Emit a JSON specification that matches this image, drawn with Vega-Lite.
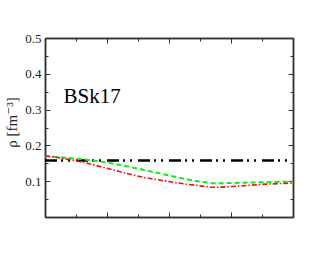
{
  "$schema": "https://vega.github.io/schema/vega-lite/v6.json",
  "width": 248,
  "height": 179,
  "autosize": {"type": "none"},
  "padding": {"left": 45, "top": 38, "right": 37, "bottom": 38},
  "background": "white",
  "view": {"stroke": null},
  "config": {
    "axis": {
      "grid": false,
      "domainColor": "#333333",
      "domainWidth": 1.5,
      "tickColor": "#333333",
      "tickWidth": 1,
      "labelFont": "Liberation Serif, DejaVu Serif, serif",
      "labelFontSize": 13,
      "labelColor": "#222222",
      "titleFont": "Liberation Serif, DejaVu Serif, serif",
      "titleFontSize": 15,
      "titleFontWeight": "normal",
      "titleColor": "#222222"
    }
  },
  "resolve": {"axis": {"x": "independent", "y": "independent"}},
  "layer": [
    {
      "data": {"values": [{"x": 0, "rho": 0.158}, {"x": 4, "rho": 0.158}]},
      "mark": {"type": "line", "color": "#000000", "strokeWidth": 2.5, "strokeDash": [12, 4, 2, 5, 2, 6]},
      "encoding": {
        "x": {"field": "x", "type": "quantitative", "scale": {"domain": [0, 4], "nice": false},
              "axis": {"orient": "bottom", "values": [1, 2, 3], "labels": false, "tickSize": -5, "title": null}},
        "y": {"field": "rho", "type": "quantitative", "scale": {"domain": [0, 0.5], "nice": false},
              "axis": {"orient": "left", "values": [0.1, 0.2, 0.3, 0.4, 0.5], "format": ".1f", "tickSize": -5, "labelPadding": 9,
                       "title": "ρ [fm⁻³]", "titleX": -26, "titleY": 84}}
      }
    },
    {
      "data": {"values": [
        {"x": 0, "rho": 0.170}, {"x": 0.5, "rho": 0.163}, {"x": 1, "rho": 0.152}, {"x": 1.5, "rho": 0.135},
        {"x": 2, "rho": 0.116}, {"x": 2.5, "rho": 0.099}, {"x": 2.75, "rho": 0.094}, {"x": 3, "rho": 0.095},
        {"x": 3.5, "rho": 0.097}, {"x": 4, "rho": 0.099}
      ]},
      "mark": {"type": "line", "color": "#11ee11", "strokeWidth": 2, "strokeDash": [5, 3], "interpolate": "monotone"},
      "encoding": {
        "x": {"field": "x", "type": "quantitative",
              "axis": {"orient": "bottom", "values": [0.5, 1.5, 2.5, 3.5], "labels": false, "tickSize": -3, "title": null}},
        "y": {"field": "rho", "type": "quantitative",
              "axis": {"orient": "left", "values": [0.05, 0.15, 0.25, 0.35, 0.45], "labels": false, "tickSize": -3, "title": null}}
      }
    },
    {
      "data": {"values": [
        {"x": 0, "rho": 0.171}, {"x": 0.5, "rho": 0.157}, {"x": 1, "rho": 0.136}, {"x": 1.5, "rho": 0.114},
        {"x": 2, "rho": 0.099}, {"x": 2.5, "rho": 0.087}, {"x": 2.75, "rho": 0.083}, {"x": 3, "rho": 0.085},
        {"x": 3.5, "rho": 0.091}, {"x": 4, "rho": 0.095}
      ]},
      "mark": {"type": "line", "color": "#ee1111", "strokeWidth": 1.6, "strokeDash": [5, 2, 1.5, 2], "interpolate": "monotone"},
      "encoding": {
        "x": {"field": "x", "type": "quantitative",
              "axis": {"orient": "top", "values": [1, 2, 3], "labels": false, "tickSize": -5, "title": null}},
        "y": {"field": "rho", "type": "quantitative",
              "axis": {"orient": "right", "values": [0.1, 0.2, 0.3, 0.4, 0.5], "labels": false, "tickSize": -5, "title": null}}
      }
    },
    {
      "data": {"values": [{"x": 0.3, "rho": 0.319, "label": "BSk17"}]},
      "mark": {"type": "text", "font": "Liberation Serif, DejaVu Serif, serif", "fontSize": 21, "align": "left", "baseline": "alphabetic", "color": "#000000"},
      "encoding": {
        "x": {"field": "x", "type": "quantitative",
              "axis": {"orient": "top", "values": [0.5, 1.5, 2.5, 3.5], "labels": false, "tickSize": -3, "title": null}},
        "y": {"field": "rho", "type": "quantitative",
              "axis": {"orient": "right", "values": [0.05, 0.15, 0.25, 0.35, 0.45], "labels": false, "tickSize": -3, "title": null}},
        "text": {"field": "label"}
      }
    }
  ]
}
